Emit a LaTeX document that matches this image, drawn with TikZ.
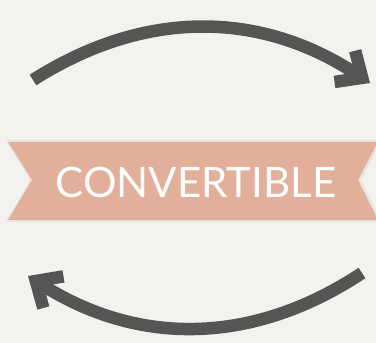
\documentclass[tikz,border=0pt]{standalone}
\usepackage{fontspec}
\setmainfont{Lato}
\usetikzlibrary{arrows.meta}

\definecolor{paper}{HTML}{F4F2EE}
\definecolor{ribbon}{HTML}{E2B09A}
\definecolor{arrowgray}{HTML}{555555}

\begin{document}
\begin{tikzpicture}[x=1pt, y=1pt, >={Straight Barb[angle=84:28pt, line cap=butt, line join=miter]},
    cycle/.style={draw=arrowgray, line width=12.5pt, ->},
    every node/.style={font=\fontsize{42}{42}\selectfont, text=white}]
    % background and bounding box
    \fill[paper] (0,0) rectangle (376,343);
    \useasboundingbox (0,0) rectangle (376,343);

    % ribbon with notched ends
    \fill[black, opacity=0.05] (6,203) -- (382,203) -- (361,163) -- (382,121) -- (6,121) -- (30,163) -- cycle;
    \fill[ribbon] (8,201) -- (378,201) -- (358,163) -- (378,123) -- (8,123) -- (32,163) -- cycle;
    \node[anchor=base] (label) at (196,145) {CONVERTIBLE};

    % cycle arrows
    \coordinate (topstart) at (33,263);
    \coordinate (topend) at (370,260);
    \coordinate (botstart) at (362,70);
    \coordinate (botend) at (28,67);
    \draw[cycle] (topstart) to[bend left=33] (topend);
    \draw[cycle] (botstart) to[bend left=33] (botend);
  \end{tikzpicture}
\end{document}
